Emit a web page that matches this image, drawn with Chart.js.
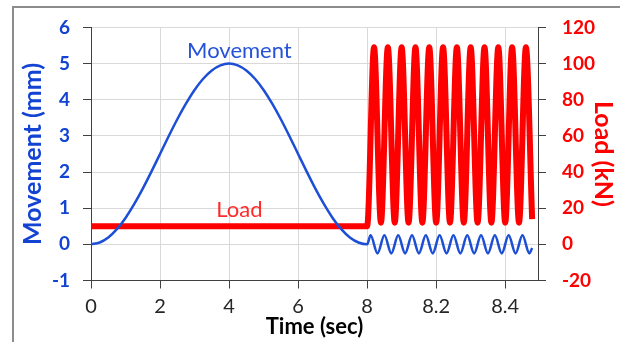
<!DOCTYPE html>
<html lang="en">
<head>
<meta charset="UTF-8">
<title>Movement and Load vs Time</title>
<style>
  html, body { margin: 0; padding: 0; background: #fff; }
  body { width: 620px; height: 342px; overflow: hidden; position: relative; }
  .frame { position: absolute; left: 12px; top: 6px; width: 700px; height: 400px;
           border: 2px solid #8c8c8c; box-sizing: border-box; }
  .wrap { position: absolute; left: 0; top: 0; width: 620px; height: 342px; }
</style>
</head>
<body>

<div class="frame"></div>
<div class="wrap"><canvas id="chart"></canvas></div>

<script src="https://cdn.jsdelivr.net/npm/chart.js@4.4.0/dist/chart.umd.min.js"></script>
<script>
    // time axis is broken at 8 s: the last half second is stretched 10x
    const BREAK = 8, STRETCH = 10;
    function axisPos(t) { return t <= BREAK ? t : BREAK + (t - BREAK) * STRETCH; }

    // Movement (mm)
    const moveTime = [
        0, 0.25, 0.5, 0.75, 1, 1.25, 1.5, 1.75, 2, 2.25, 2.5, 2.75, 3, 3.25, 3.5, 3.75,
        4, 4.25, 4.5, 4.75, 5, 5.25, 5.5, 5.75, 6, 6.25, 6.5, 6.75, 7, 7.25, 7.5, 7.75, 8,
        8.01, 8.03, 8.05, 8.07, 8.09, 8.11, 8.13, 8.15, 8.17, 8.19, 8.21, 8.23,
        8.25, 8.27, 8.29, 8.31, 8.33, 8.35, 8.37, 8.39, 8.41, 8.43, 8.45, 8.47, 8.478
    ];
    const moveValues = [
        0, 0.05, 0.19, 0.42, 0.73, 1.11, 1.54, 2.01, 2.5, 2.99, 3.46, 3.89, 4.27, 4.58, 4.81, 4.95,
        5, 4.95, 4.81, 4.58, 4.27, 3.89, 3.46, 2.99, 2.5, 2.01, 1.54, 1.11, 0.73, 0.42, 0.19, 0.05, 0,
        0.25, -0.25, 0.25, -0.25, 0.25, -0.25, 0.25, -0.25, 0.25, -0.25, 0.25, -0.25,
        0.25, -0.25, 0.25, -0.25, 0.25, -0.25, 0.25, -0.25, 0.25, -0.25, 0.25, -0.25, -0.1
    ];

    // Load (kN)
    const loadTime = [
        0, 8, 8.02, 8.04, 8.06, 8.08, 8.10, 8.12, 8.14, 8.16, 8.18, 8.20, 8.22, 8.24,
        8.26, 8.28, 8.30, 8.32, 8.34, 8.36, 8.38, 8.40, 8.42, 8.44, 8.46, 8.478
    ];
    const loadValues = [
        10, 10, 109, 12, 109, 12, 109, 12, 109, 12, 109, 12, 109, 12,
        109, 12, 109, 12, 109, 12, 109, 12, 109, 12, 109, 14
    ];

    const timeTicks = [0, 2, 4, 6, 8, 8.2, 8.4];
    const timeMax = 8.495;

    const BLUE = '#1c4fd6', BLUE_TXT = '#1243d3', RED = '#ff0000';
    const AXIS = '#404040', GRID = '#d9d9d9';
    const FONT = 'Lato, "Open Sans", sans-serif';

    // in-plot series labels
    const seriesLabels = [
        { text: 'Movement', t: 4.3, y: 5.35, axis: 'y', color: '#2552d8' },
        { text: 'Load', t: 4.3, y: 18.8, axis: 'y1', color: '#ff2a2a' }
    ];

    const labelPlugin = {
        id: 'seriesLabels',
        afterDatasetsDraw(chart) {
            const ctx = chart.ctx;
            ctx.save();
            ctx.font = '22px ' + FONT;
            ctx.textAlign = 'center';
            ctx.textBaseline = 'middle';
            seriesLabels.forEach(l => {
                ctx.fillStyle = l.color;
                ctx.fillText(l.text, chart.scales.x.getPixelForValue(axisPos(l.t)),
                    chart.scales[l.axis].getPixelForValue(l.y));
            });
            ctx.restore();
        }
    };

    const toPoints = (ts, vs) => ts.map((t, i) => ({ x: axisPos(t), y: vs[i] }));

    new Chart(document.getElementById('chart'), {
        type: 'line',
        data: {
            datasets: [
                {
                    label: 'Movement',
                    data: toPoints(moveTime, moveValues),
                    yAxisID: 'y',
                    borderColor: BLUE,
                    borderWidth: 2.5,
                    pointRadius: 0,
                    cubicInterpolationMode: 'monotone'
                },
                {
                    label: 'Load',
                    data: toPoints(loadTime, loadValues),
                    yAxisID: 'y1',
                    borderColor: RED,
                    borderWidth: 6,
                    pointRadius: 0,
                    cubicInterpolationMode: 'monotone'
                }
            ]
        },
        options: {
            responsive: true,
            maintainAspectRatio: false,
            animation: false,
            layout: { padding: { top: 22 } },
            plugins: { legend: { display: false }, tooltip: { enabled: false } },
            scales: {
                x: {
                    type: 'linear',
                    min: 0,
                    max: axisPos(timeMax),
                    afterBuildTicks: s => { s.ticks = timeTicks.map(t => ({ value: axisPos(t) })); },
                    afterFit: s => { s.height = 61.5; },
                    ticks: {
                        padding: 6,
                        color: '#262626',
                        font: { family: FONT, size: 20 },
                        callback: v => {
                            const t = timeTicks.find(tt => Math.abs(axisPos(tt) - v) < 1e-6);
                            return t === undefined ? '' : String(t);
                        }
                    },
                    grid: {
                        color: c => (c.tick && c.tick.value === 0) ? 'rgba(0,0,0,0)' : GRID,
                        tickColor: AXIS,
                        tickLength: 8
                    },
                    border: { color: AXIS },
                    title: {
                        display: true,
                        text: 'Time (sec)',
                        color: '#000',
                        font: { family: FONT, size: 22, weight: 'bold' },
                        padding: { top: 0, bottom: 2 }
                    }
                },
                y: {
                    position: 'left',
                    min: -1,
                    max: 6,
                    ticks: {
                        stepSize: 1,
                        padding: 13,
                        color: BLUE_TXT,
                        font: { family: FONT, size: 19, weight: 'bold' }
                    },
                    afterFit: s => { s.width = 91; },
                    grid: { color: GRID, tickColor: AXIS, tickLength: 8 },
                    border: { color: AXIS },
                    title: {
                        display: true,
                        text: 'Movement (mm)',
                        color: BLUE_TXT,
                        font: { family: FONT, size: 25, weight: 'bold' },
                        padding: { top: 18, bottom: 0 }
                    }
                },
                y1: {
                    position: 'right',
                    min: -20,
                    max: 120,
                    ticks: {
                        stepSize: 20,
                        padding: 16,
                        color: RED,
                        font: { family: FONT, size: 19, weight: 'bold' }
                    },
                    afterFit: s => { s.width = 82; },
                    grid: { drawOnChartArea: false, tickColor: AXIS, tickLength: 8 },
                    border: { color: AXIS },
                    title: {
                        display: true,
                        text: 'Load (kN)',
                        color: RED,
                        font: { family: FONT, size: 25, weight: 'bold' },
                        padding: { top: 2, bottom: 0 }
                    }
                }
            }
        },
        plugins: [labelPlugin]
    });
</script>

</body>
</html>
